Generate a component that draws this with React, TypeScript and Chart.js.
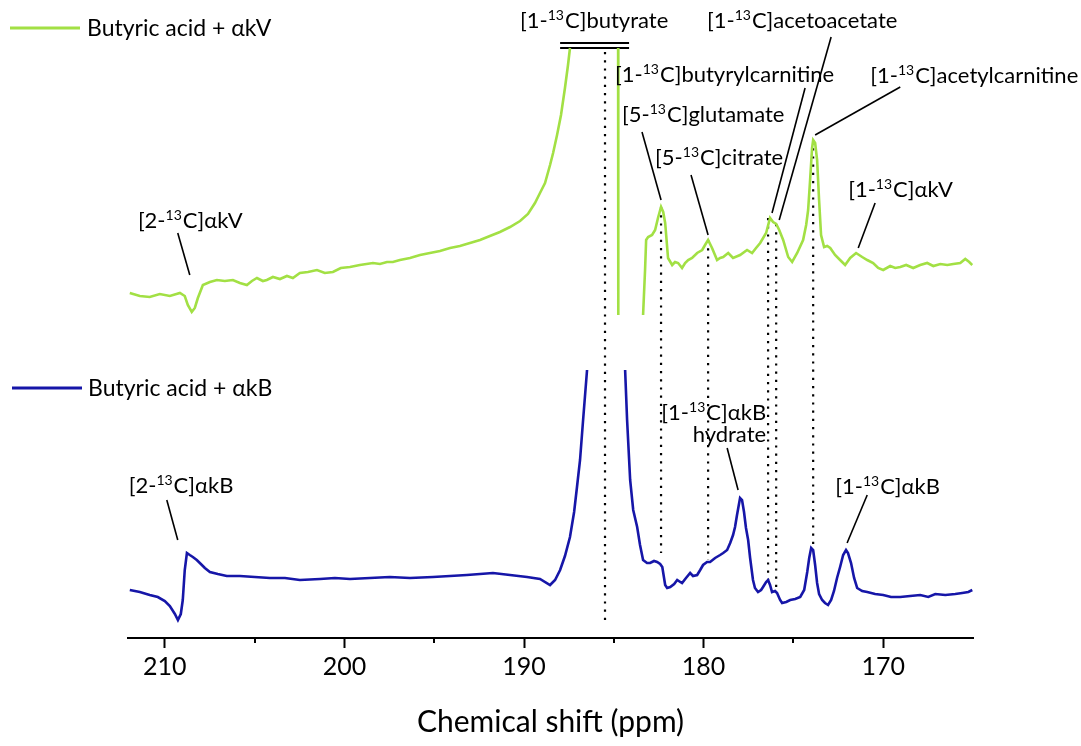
import React, { useEffect, useRef } from 'react';
import { Chart, registerables } from 'chart.js';
Chart.register(...registerables);

const GREEN = '#a2e044';
const BLUE = '#1616a8';
const FONT = 'Lato';

// x axis range (ppm, reversed)
const X_MIN = 165;
const X_MAX = 212.05;
const xTickValues = [170, 175, 180, 185, 190, 195, 200, 205, 210];

// Green spectrum: butyric acid + αkV (null = off-scale break)
const greenPpm = [
  211.95, 211.39, 210.84, 210.28, 209.72, 209.16, 208.89, 208.72, 208.5, 208.33,
  208.16, 207.88, 207.49, 207.1, 206.66, 206.21, 205.82, 205.43, 205.15, 204.87,
  204.54, 204.32, 203.98, 203.59, 203.2, 202.87, 202.48, 202.03, 201.53, 201.09,
  200.64, 200.2, 199.69, 199.14, 198.41, 198.02, 197.63, 197.3, 196.91, 196.35,
  195.79, 195.24, 194.68, 194.12, 193.57, 193.01, 192.45, 191.9, 191.34, 190.78,
  190.22, 189.78, 189.39, 189.11, 188.83, 188.55, 188.38, 188.16, 187.94, 187.72,
  187.55, 187.44, 186.1, 184.76, 184.75, 184.0,
  183.37, 183.26, 183.2, 183.09, 182.87, 182.7, 182.54, 182.37, 182.25, 182.14,
  181.98, 181.75, 181.59, 181.42, 181.2, 181.03, 180.86, 180.64, 180.36, 180.08,
  179.92, 179.75, 179.53, 179.25, 179.08, 178.91, 178.63, 178.36, 177.97, 177.58,
  177.3, 177.08, 176.85, 176.52, 176.3, 176.13, 175.96, 175.79, 175.57, 175.29,
  175.07, 174.79, 174.46, 174.29, 174.18, 174.07, 173.96, 173.9, 173.79, 173.68,
  173.57, 173.46, 173.29, 173.12, 172.95, 172.68, 172.4, 172.12, 171.84, 171.51,
  171.17, 170.89, 170.56, 170.28, 170.0, 169.61, 169.33, 169.05, 168.72, 168.33,
  167.94, 167.55, 167.21, 166.82, 166.43, 166.1, 165.71, 165.43, 165.21, 165.04,
];
const greenInt = [
  34.5, 34.2, 34.1, 34.4, 34.2, 34.5, 34.2, 33.3, 32.6, 33.0,
  34.0, 35.3, 35.6, 35.8, 35.7, 35.8, 35.5, 35.3, 35.7, 36.0,
  35.7, 35.8, 36.1, 35.9, 36.2, 36.0, 36.5, 36.6, 36.8, 36.5,
  36.6, 37.0, 37.1, 37.3, 37.5, 37.4, 37.6, 37.6, 37.8, 38.0,
  38.3, 38.5, 38.7, 39.0, 39.2, 39.5, 39.8, 40.2, 40.6, 41.1,
  41.7, 42.4, 43.5, 44.5, 45.5, 47.3, 48.5, 50.3, 52.3, 55.0,
  57.3, 59.0, null, 59.0, 32.3, null,
  32.3, 36.8, 39.8, 40.1, 40.3, 40.8, 42.0, 43.1, 42.6, 41.5,
  38.0, 37.3, 37.6, 37.5, 37.0, 37.5, 37.8, 38.0, 38.5, 38.8,
  39.3, 39.8, 39.0, 37.8, 38.0, 38.1, 38.5, 38.0, 38.3, 38.8,
  38.5, 39.0, 39.5, 40.5, 42.0, 41.6, 41.4, 40.8, 39.8, 38.1,
  37.6, 38.5, 39.8, 41.3, 42.8, 45.8, 49.0, 49.8, 49.5, 47.8,
  43.8, 40.3, 39.1, 39.2, 39.0, 38.3, 37.8, 37.3, 38.0, 38.5,
  38.1, 37.8, 37.5, 37.0, 36.8, 37.2, 37.0, 37.1, 37.3, 37.0,
  37.3, 37.5, 37.2, 37.4, 37.3, 37.4, 37.5, 37.9, 37.6, 37.3,
];

// Blue spectrum: butyric acid + αkB
const bluePpm = [
  211.95, 211.39, 210.84, 210.39, 210.0, 209.72, 209.44, 209.27, 209.11, 209.0,
  208.89, 208.77, 208.61, 208.44, 208.22, 208.05, 207.77, 207.49, 207.05, 206.55,
  205.82, 204.99, 204.15, 203.31, 202.48, 201.36, 200.53, 199.69, 198.58, 197.47,
  196.35, 195.07, 194.12, 193.18, 192.45, 191.73, 190.78, 189.83, 189.11, 188.55,
  188.27, 187.99, 187.72, 187.44, 187.21, 187.05, 186.88, 186.71, 186.49, 185.4,
  184.37, 184.26, 184.09, 183.92, 183.7, 183.54, 183.37, 183.15, 182.98, 182.76,
  182.59, 182.42, 182.3, 182.14, 182.03, 181.86, 181.64, 181.47, 181.3, 181.2,
  180.98, 180.75, 180.59, 180.36, 180.19, 180.03, 179.81, 179.64, 179.36, 179.08,
  178.91, 178.69, 178.52, 178.36, 178.25, 178.14, 177.97, 177.86, 177.75, 177.64,
  177.52, 177.41, 177.25, 177.14, 176.97, 176.8, 176.69, 176.52, 176.41, 176.3,
  176.19, 176.02, 175.91, 175.74, 175.63, 175.4, 175.18, 174.9, 174.62, 174.4,
  174.23, 174.12, 174.01, 173.9, 173.79, 173.68, 173.57, 173.4, 173.24, 173.07,
  172.9, 172.74, 172.57, 172.4, 172.23, 172.07, 171.96, 171.79, 171.62, 171.45,
  171.17, 170.89, 170.45, 170.0, 169.56, 169.05, 168.5, 167.94, 167.49, 167.1,
  166.54, 165.99, 165.6, 165.26, 165.04,
];
const blueInt = [
  4.8, 4.6, 4.3, 4.1, 3.7, 3.2, 2.4, 1.8, 2.4, 3.8,
  6.8, 8.5, 8.3, 8.1, 7.8, 7.5, 7.0, 6.6, 6.4, 6.2,
  6.2, 6.1, 6.0, 6.0, 5.8, 5.9, 6.0, 5.9, 6.0, 6.1,
  6.0, 6.1, 6.2, 6.3, 6.4, 6.5, 6.3, 6.1, 5.9, 5.3,
  5.8, 6.8, 8.2, 10.1, 12.6, 15.1, 17.8, 21.8, 26.8, null,
  26.8, 21.8, 15.8, 12.8, 11.1, 9.3, 7.8, 7.5, 7.5, 7.7,
  7.6, 7.4, 7.1, 5.3, 5.0, 5.1, 5.4, 5.8, 5.6, 5.5,
  6.0, 6.5, 6.2, 6.3, 6.8, 7.3, 7.6, 7.6, 8.0, 8.3,
  8.5, 8.8, 9.5, 10.3, 11.1, 12.3, 14.0, 13.8, 12.6, 11.0,
  9.8, 8.0, 5.8, 5.0, 4.6, 4.8, 5.1, 5.6, 5.8, 5.3,
  4.6, 4.7, 4.5, 3.8, 3.5, 3.6, 3.8, 3.9, 4.1, 4.8,
  6.6, 8.0, 9.0, 8.8, 7.3, 5.5, 4.4, 3.8, 3.5, 3.3,
  3.8, 4.7, 6.0, 7.1, 8.3, 8.8, 8.5, 7.5, 6.0, 5.0,
  4.7, 4.6, 4.4, 4.3, 4.1, 4.1, 4.2, 4.3, 4.1, 4.4,
  4.3, 4.4, 4.5, 4.6, 4.8,
];

// Dotted guide lines (peak positions)
const guidePpm = [185.49, 182.37, 179.75, 176.41, 175.96, 173.9];
const guideTop = [58.6, 43.1, 39.8, 42.0, 41.4, 49.8];
const guideBottom = [1.8, 8.5, 7.8, 5.8, 4.8, 9.0];

// Off-scale marker (double bar) over the butyrate peak
const capPpm = [187.99, 184.15];
const capLevels = [59.5, 59.0];

// Annotation leader lines
const leaderFromPpm = [209.28, 183.43, 180.7, 174.35, 172.9, 169.05, 170.45, 178.69, 170.89, 209.89];
const leaderFromInt = [40.5, 50.6, 46.3, 55.0, 60.1, 55.1, 43.5, 19.0, 14.3, 13.8];
const leaderToPpm = [208.61, 182.37, 179.75, 176.19, 175.79, 173.79, 171.39, 178.08, 172.01, 209.28];
const leaderToInt = [36.3, 43.8, 40.3, 42.5, 41.8, 50.3, 39.0, 14.8, 9.5, 9.8];

// Annotation labels: [before superscript, superscript, after]
const labelParts = [
  ['[1-', '13', 'C]butyrate'],
  ['[1-', '13', 'C]acetoacetate'],
  ['[1-', '13', 'C]butyrylcarnitine'],
  ['[5-', '13', 'C]glutamate'],
  ['[5-', '13', 'C]citrate'],
  ['[1-', '13', 'C]acetylcarnitine'],
  ['[1-', '13', 'C]αkV'],
  ['[2-', '13', 'C]αkV'],
  ['[1-', '13', 'C]αkB'],
  ['hydrate', '', ''],
  ['[1-', '13', 'C]αkB'],
  ['[2-', '13', 'C]αkB'],
];
const labelPpm = [190.22, 179.81, 184.93, 184.54, 182.7, 170.72, 171.95, 211.5, 176.52, 176.52, 172.67, 212.01];
const labelInt = [61.0, 61.0, 55.6, 51.6, 47.3, 55.5, 44.1, 41.0, 21.8, 19.6, 14.4, 14.5];
const labelAlign = ['left', 'left', 'left', 'left', 'left', 'left', 'left', 'left', 'right', 'right', 'left', 'left'];

const legendNames = ['Butyric acid + αkV', 'Butyric acid + αkB'];
const legendColors = [GREEN, BLUE];

function drawRich(ctx: CanvasRenderingContext2D, parts: string[], x: number, y: number, align: string) {
  const [a, s, b] = parts;
  const main = `22px ${FONT}`;
  const small = `14px ${FONT}`;
  ctx.font = main;
  const wa = ctx.measureText(a).width;
  const wb = ctx.measureText(b).width;
  ctx.font = small;
  const ws = s ? ctx.measureText(s).width + 1 : 0;
  const total = wa + ws + wb;
  const sx = align === 'right' ? x - total : x;
  ctx.textAlign = 'left';
  ctx.textBaseline = 'alphabetic';
  ctx.font = main;
  ctx.fillText(a, sx, y);
  if (s) {
    ctx.font = small;
    ctx.fillText(s, sx + wa, y - 8);
  }
  ctx.font = main;
  ctx.fillText(b, sx + wa + ws, y);
}

const overlayPlugin = {
  id: 'overlay',
  afterDraw(chart: any) {
    const ctx: CanvasRenderingContext2D = chart.ctx;
    const xs = chart.scales.x;
    const ys = chart.scales.y;
    ctx.save();
    ctx.fillStyle = '#000';
    ctx.strokeStyle = '#000';
    ctx.lineWidth = 2;
    const bottom = chart.chartArea.bottom;
    xTickValues.forEach((v) => {
      if (v % 10 !== 0) {
        const px = Math.round(xs.getPixelForValue(v));
        ctx.beginPath();
        ctx.moveTo(px, bottom);
        ctx.lineTo(px, bottom + 5);
        ctx.stroke();
      }
    });
    labelParts.forEach((p, i) => {
      drawRich(ctx, p, xs.getPixelForValue(labelPpm[i]), ys.getPixelForValue(labelInt[i]), labelAlign[i]);
    });
    const legendY = [28, 388];
    legendNames.forEach((name, i) => {
      ctx.strokeStyle = legendColors[i];
      ctx.lineWidth = 3;
      ctx.beginPath();
      ctx.moveTo(10 + i * 2, legendY[i]);
      ctx.lineTo(80 + i * 2, legendY[i]);
      ctx.stroke();
      ctx.fillStyle = '#000';
      ctx.font = `23px ${FONT}`;
      ctx.textAlign = 'left';
      ctx.textBaseline = 'middle';
      ctx.fillText(name, 87 + i, legendY[i] + 1);
    });
    ctx.restore();
  },
};

export default function App() {
  const ref = useRef<HTMLCanvasElement | null>(null);
  useEffect(() => {
    if (!ref.current) return;
    const toPts = (xa: number[], ya: (number | null)[]) => xa.map((x, i) => ({ x, y: ya[i] }));
    const datasets: any[] = [
      {
        label: legendNames[0],
        data: toPts(greenPpm, greenInt),
        borderColor: GREEN,
        borderWidth: 2.6,
        pointRadius: 0,
        tension: 0,
        spanGaps: false,
      },
      {
        label: legendNames[1],
        data: toPts(bluePpm, blueInt),
        borderColor: BLUE,
        borderWidth: 2.6,
        pointRadius: 0,
        tension: 0,
        spanGaps: false,
      },
    ];
    guidePpm.forEach((p, i) => {
      datasets.push({
        data: [{ x: p, y: guideTop[i] }, { x: p, y: guideBottom[i] }],
        borderColor: '#000',
        borderWidth: 2.2,
        borderDash: [2.2, 6],
        pointRadius: 0,
      });
    });
    capLevels.forEach((lv) => {
      datasets.push({
        data: [{ x: capPpm[0], y: lv }, { x: capPpm[1], y: lv }],
        borderColor: '#000',
        borderWidth: 2,
        pointRadius: 0,
      });
    });
    leaderFromPpm.forEach((p, i) => {
      datasets.push({
        data: [{ x: p, y: leaderFromInt[i] }, { x: leaderToPpm[i], y: leaderToInt[i] }],
        borderColor: '#000',
        borderWidth: 1.6,
        pointRadius: 0,
      });
    });
    const chart = new Chart(ref.current, {
      type: 'line',
      data: { datasets },
      options: {
        responsive: false,
        animation: false,
        devicePixelRatio: 1,
        layout: { padding: { left: 128, right: 108, top: 0, bottom: 0 } },
        plugins: { legend: { display: false }, tooltip: { enabled: false } },
        scales: {
          x: {
            type: 'linear',
            reverse: true,
            min: X_MIN,
            max: X_MAX,
            afterFit: (s: any) => {
              s.height = 108;
            },
            afterBuildTicks: (s: any) => {
              s.ticks = xTickValues.map((v) => ({ value: v }));
            },
            ticks: {
              autoSkip: false,
              maxRotation: 0,
              padding: 4,
              color: '#000',
              font: { family: FONT, size: 25 },
              callback: (v: any) => (Number(v) % 10 === 0 ? String(v) : ''),
            },
            grid: {
              drawOnChartArea: false,
              drawTicks: true,
              tickLength: 10,
              tickWidth: 2,
              tickColor: (c: any) => (c.tick && c.tick.value % 10 === 0 ? '#000' : 'rgba(0,0,0,0)'),
            },
            border: { display: true, color: '#000', width: 2 },
            title: {
              display: true,
              text: 'Chemical shift (ppm)',
              color: '#000',
              font: { family: FONT, size: 30 },
              padding: { top: 0, bottom: 6 },
            },
          },
          y: { display: false, min: 0, max: 63.8 },
        },
      },
      plugins: [overlayPlugin],
    });
    return () => chart.destroy();
  }, []);
  return (
    <div style={{ position: 'absolute', left: 0, top: 0, width: 1081, height: 746, background: '#fff' }}>
      <canvas ref={ref} width={1081} height={746} style={{ display: 'block', width: 1081, height: 746 }} />
    </div>
  );
}
